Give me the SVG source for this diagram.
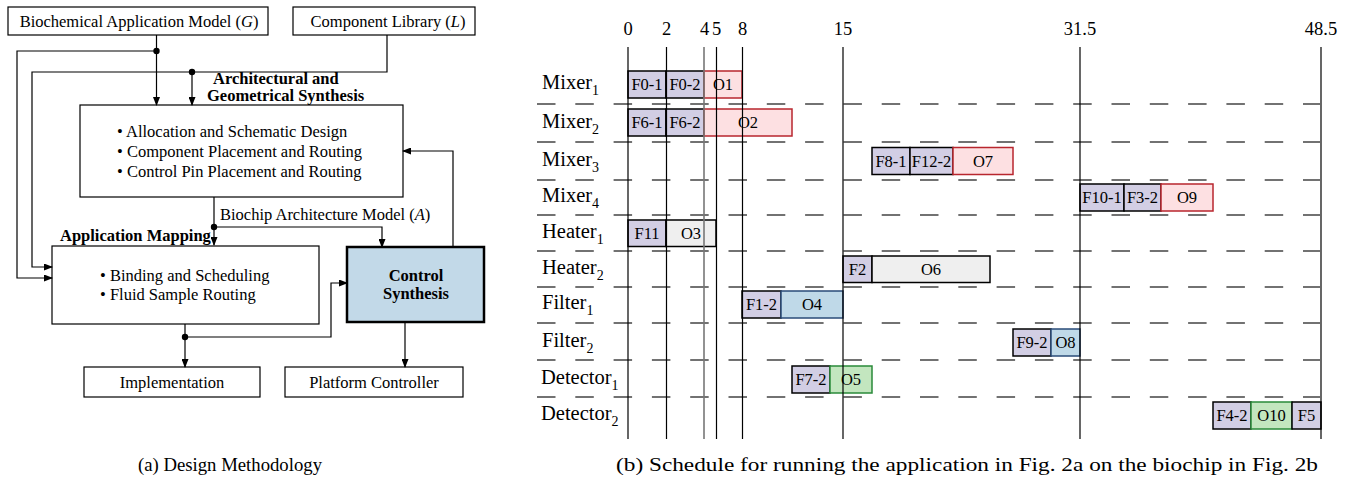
<svg xmlns="http://www.w3.org/2000/svg" width="1354" height="478" viewBox="0 0 1354 478">
<style>
text{font-family:"Liberation Serif","Times New Roman",serif;fill:#000}
.t{font-size:16.5px}
.b{font-size:16.5px;font-weight:bold}
.box{fill:#fff;stroke:#000;stroke-width:1.2}
.ln{fill:none;stroke:#000;stroke-width:1.2}
.lbl{font-size:20.5px}
.sub{font-size:14px}
.ax{font-size:18.5px;text-anchor:middle}
.bt{font-size:16.5px;text-anchor:middle}
.vl{stroke:#000;stroke-width:1.2}
.dl{stroke:#444;stroke-width:1.4;stroke-dasharray:18.5 19.8}
.fp{fill:#d2cee4;stroke:#000;stroke-width:1.5}
.op{fill:#fde0e2;stroke:#b8262e;stroke-width:1.5}
.og{fill:#efefef;stroke:#000;stroke-width:1.5}
.ob{fill:#bfd9e8;stroke:#2a4b78;stroke-width:1.5}
.ogr{fill:#c3e6bf;stroke:#2a8a3a;stroke-width:1.5}
.cap{font-size:19px}
</style>
<defs>
<marker id="ah" markerWidth="9" markerHeight="7" refX="8" refY="3.5" orient="auto" markerUnits="userSpaceOnUse">
<path d="M0,0 L9,3.5 L0,7 z" fill="#000"/>
</marker>
</defs>
<rect width="1354" height="478" fill="#fff"/>

<!-- Left: design methodology -->
<g id="node-G"><rect class="box" x="8" y="7" width="260" height="28"/><text class="t" x="139" y="27" text-anchor="middle">Biochemical Application Model (<tspan font-style="italic">G</tspan>)</text></g>
<g id="node-L"><rect class="box" x="293" y="7" width="182" height="28"/><text class="t" x="388" y="27" text-anchor="middle">Component Library (<tspan font-style="italic">L</tspan>)</text></g>
<g id="node-ArchSynth">
<text class="b" x="213" y="84">Architectural and</text>
<text class="b" x="207" y="101">Geometrical Synthesis</text>
<rect class="box" x="80" y="105" width="323" height="92"/>
<text class="t" x="117" y="137">•  Allocation and Schematic Design</text>
<text class="t" x="117" y="157">•  Component Placement and Routing</text>
<text class="t" x="117" y="177">•  Control Pin Placement and Routing</text>
</g>
<g id="node-AppMap">
<text class="b" x="60" y="241">Application Mapping</text>
<rect class="box" x="52" y="246" width="267" height="78"/>
<text class="t" x="100" y="281">•  Binding and Scheduling</text>
<text class="t" x="100" y="300">•  Fluid Sample Routing</text>
</g>
<g id="node-Control"><rect x="347" y="247" width="137" height="75" fill="#c2d9e8" stroke="#000" stroke-width="2.5"/><text class="b" x="416" y="281" text-anchor="middle">Control</text><text class="b" x="416" y="299" text-anchor="middle">Synthesis</text></g>
<g id="node-Impl"><rect class="box" x="84" y="367" width="176" height="30"/><text class="t" x="172" y="388" text-anchor="middle">Implementation</text></g>
<g id="node-Platform"><rect class="box" x="285" y="367" width="178" height="30"/><text class="t" x="374" y="388" text-anchor="middle">Platform Controller</text></g>

<g id="connectors">
<path class="ln" d="M156.5,35 V105" marker-end="url(#ah)"/>
<path class="ln" d="M156.5,51 H17 V278 H52" marker-end="url(#ah)"/>
<path class="ln" d="M387,35 V72 H32 V267 H52" marker-end="url(#ah)"/>
<path class="ln" d="M192,72 V105" marker-end="url(#ah)"/>
<path class="ln" d="M214,197 V245" marker-end="url(#ah)"/>
<path class="ln" d="M214,227 H382 V247" marker-end="url(#ah)"/>
<path class="ln" d="M453,247 V151 H403" marker-end="url(#ah)"/>
<path class="ln" d="M185,324 V367" marker-end="url(#ah)"/>
<path class="ln" d="M185,337 H331 V283 H347" marker-end="url(#ah)"/>
<path class="ln" d="M405,322 V367" marker-end="url(#ah)"/>
<circle cx="156.5" cy="51" r="3.2"/>
<circle cx="192" cy="72" r="3.2"/>
<circle cx="214" cy="227" r="3.2"/>
<circle cx="185" cy="337" r="3.2"/>
<text class="t" x="220" y="220" font-size="15.5px">Biochip Architecture Model (<tspan font-style="italic">A</tspan>)</text>
</g>

<!-- Right: schedule -->
<g id="axis">
<text class="ax" x="628" y="35">0</text>
<text class="ax" x="666.5" y="35">2</text>
<text class="ax" x="704.5" y="35">4</text>
<text class="ax" x="716.5" y="35">5</text>
<text class="ax" x="742.5" y="35">8</text>
<text class="ax" x="843" y="35">15</text>
<text class="ax" x="1080" y="35">31.5</text>
<text class="ax" x="1321" y="35">48.5</text>
</g>
<g id="dashes">
<line class="dl" x1="537" y1="104" x2="1320" y2="104"/>
<line class="dl" x1="537" y1="142" x2="1320" y2="142"/>
<line class="dl" x1="537" y1="180" x2="1320" y2="180"/>
<line class="dl" x1="537" y1="215" x2="1320" y2="215"/>
<line class="dl" x1="537" y1="251" x2="1320" y2="251"/>
<line class="dl" x1="537" y1="287" x2="1320" y2="287"/>
<line class="dl" x1="537" y1="323" x2="1320" y2="323"/>
<line class="dl" x1="537" y1="360" x2="1320" y2="360"/>
<line class="dl" x1="537" y1="397" x2="1320" y2="397"/>
</g>
<g id="rowlabels">
<text class="lbl" x="542" y="89">Mixer<tspan class="sub" dy="6">1</tspan></text>
<text class="lbl" x="542" y="127.5">Mixer<tspan class="sub" dy="6">2</tspan></text>
<text class="lbl" x="542" y="165.5">Mixer<tspan class="sub" dy="6">3</tspan></text>
<text class="lbl" x="542" y="202">Mixer<tspan class="sub" dy="6">4</tspan></text>
<text class="lbl" x="542" y="237.5">Heater<tspan class="sub" dy="6">1</tspan></text>
<text class="lbl" x="542" y="273.5">Heater<tspan class="sub" dy="6">2</tspan></text>
<text class="lbl" x="542" y="309">Filter<tspan class="sub" dy="6">1</tspan></text>
<text class="lbl" x="542" y="347">Filter<tspan class="sub" dy="6">2</tspan></text>
<text class="lbl" x="541" y="384">Detector<tspan class="sub" dy="6">1</tspan></text>
<text class="lbl" x="541" y="420">Detector<tspan class="sub" dy="6">2</tspan></text>
</g>
<g id="tasks">
<g id="row-mixer1">
<rect class="fp" x="628" y="71" width="38" height="27"/><text class="bt" x="647" y="90">F0-1</text>
<rect class="fp" x="666" y="71" width="38" height="27"/><text class="bt" x="685" y="90">F0-2</text>
<rect class="op" x="704" y="71" width="38" height="27"/><text class="bt" x="723" y="90">O1</text>
</g>
<g id="row-mixer2">
<rect class="fp" x="628" y="109" width="38" height="27"/><text class="bt" x="647" y="128">F6-1</text>
<rect class="fp" x="666" y="109" width="38" height="27"/><text class="bt" x="685" y="128">F6-2</text>
<rect class="op" x="704" y="109" width="88" height="27"/><text class="bt" x="748" y="128">O2</text>
</g>
<g id="row-mixer3">
<rect class="fp" x="872" y="147.5" width="38" height="27"/><text class="bt" x="891" y="166.5">F8-1</text>
<rect class="fp" x="910" y="147.5" width="43" height="27"/><text class="bt" x="931.5" y="166.5">F12-2</text>
<rect class="op" x="953" y="147.5" width="60" height="27"/><text class="bt" x="983" y="166.5">O7</text>
</g>
<g id="row-mixer4">
<rect class="fp" x="1080" y="184" width="44" height="27"/><text class="bt" x="1102" y="203">F10-1</text>
<rect class="fp" x="1124" y="184" width="37" height="27"/><text class="bt" x="1142.5" y="203">F3-2</text>
<rect class="op" x="1161" y="184" width="52" height="27"/><text class="bt" x="1187" y="203">O9</text>
</g>
<g id="row-heater1">
<rect class="fp" x="628" y="220" width="38" height="26.5"/><text class="bt" x="647" y="239">F11</text>
<rect class="og" x="666" y="220" width="50" height="26.5"/><text class="bt" x="691" y="239">O3</text>
</g>
<g id="row-heater2">
<rect class="fp" x="843" y="256" width="29" height="26.5"/><text class="bt" x="857.5" y="275">F2</text>
<rect class="og" x="872" y="256" width="118" height="26.5"/><text class="bt" x="931" y="275">O6</text>
</g>
<g id="row-filter1">
<rect class="fp" x="742" y="291" width="39" height="27"/><text class="bt" x="761.5" y="310">F1-2</text>
<rect class="ob" x="781" y="291" width="62" height="27"/><text class="bt" x="812" y="310">O4</text>
</g>
<g id="row-filter2">
<rect class="fp" x="1013" y="329" width="38" height="27"/><text class="bt" x="1032" y="348">F9-2</text>
<rect class="ob" x="1051" y="329" width="29" height="27"/><text class="bt" x="1065.5" y="348">O8</text>
</g>
<g id="row-detector1">
<rect class="fp" x="792" y="366" width="38" height="27"/><text class="bt" x="811" y="385">F7-2</text>
<rect class="ogr" x="830" y="366" width="42" height="27"/><text class="bt" x="851" y="385">O5</text>
</g>
<g id="row-detector2">
<rect class="fp" x="1213" y="402" width="38" height="27"/><text class="bt" x="1232" y="421">F4-2</text>
<rect class="ogr" x="1251" y="402" width="41" height="27"/><text class="bt" x="1271.5" y="421">O10</text>
<rect class="fp" x="1292" y="402" width="29" height="27"/><text class="bt" x="1306.5" y="421">F5</text>
</g>
</g>
<g id="timelines">
<line class="vl" x1="628" y1="47" x2="628" y2="439"/>
<line class="vl" x1="666.5" y1="47" x2="666.5" y2="439"/>
<line x1="704" y1="47" x2="704" y2="439" stroke="#777" stroke-width="1.6"/>
<line class="vl" x1="716.5" y1="47" x2="716.5" y2="439"/>
<line class="vl" x1="742.5" y1="47" x2="742.5" y2="439"/>
<line class="vl" x1="843" y1="47" x2="843" y2="439"/>
<line class="vl" x1="1080" y1="47" x2="1080" y2="439"/>
<line class="vl" x1="1321" y1="47" x2="1321" y2="439"/>
</g>

<g id="captions">
<text class="cap" x="138" y="471" textLength="184" lengthAdjust="spacingAndGlyphs">(a)  Design Methodology</text>
<text class="cap" x="616" y="471" textLength="702" lengthAdjust="spacingAndGlyphs">(b)  Schedule for running the application in Fig. 2a on the biochip in Fig. 2b</text>
</g>
</svg>
